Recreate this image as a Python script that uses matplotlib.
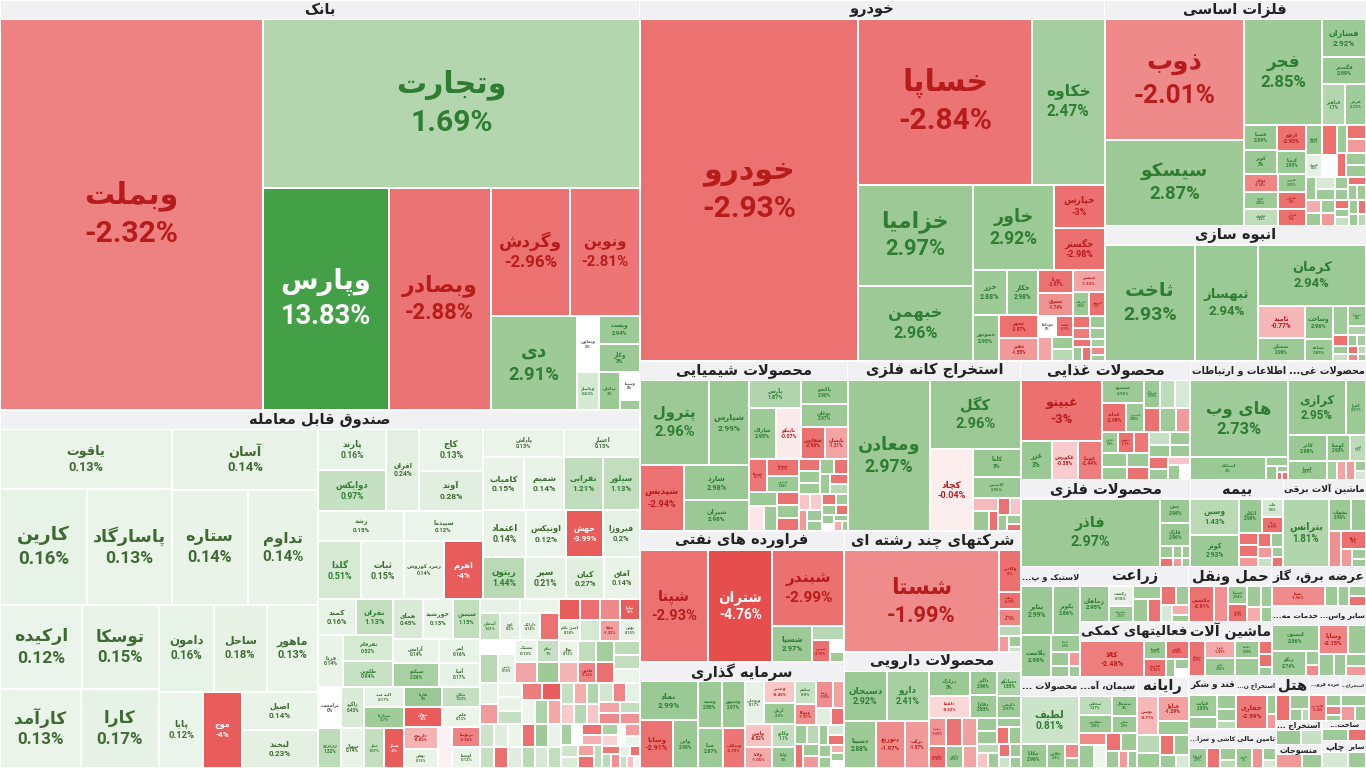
import numpy as np
import matplotlib
matplotlib.use("Agg")
import matplotlib.pyplot as plt
from matplotlib.patches import Rectangle

# ---------------------------------------------------------------- data
# sector header texts (as shown on the map) and sector market caps
sector_names = [
    "بانک", "صندوق قابل معامله", "خودرو", "فلزات اساسی", "انبوه سازی",
    "محصولات شیمیایی", "استخراج کانه فلزی", "فراورده های نفتی", "سرمایه گذاری",
    "شرکتهای چند رشته ای", "محصولات دارویی", "محصولات غذایی", "محصولات فلزی",
    "اطلاعات و ارتباطات", "محصولات غی...", "بیمه", "ماشین آلات برقی",
    "لاستیک و پ...", "زراعت", "فعالیتهای کمکی", "محصولات ...", "سیمان، آه...",
    "رایانه", "حمل ونقل", "ماشین آلات", "عرضه برق، گاز", "خدمات مه...",
    "سایر واس...", "قند و شکر", "استخراج ن...", "کاشی و سرا...", "تامین مالی",
    "هتل", "خرده فرو...", "استخراج...", "استخراج ...", "منسوجات", "ساخت...",
    "چاپ", "سایر",
]
sector_caps = [
    262400, 229120, 168000, 59000, 35500, 35400, 29400, 26800, 21600, 21400,
    20400, 20060, 14790, 11500, 9268, 8091, 7221, 6540, 6050, 5940, 5278, 5270,
    4732, 4565, 4482, 3720, 3290, 3280, 2550, 2150, 1850, 1550, 1500, 1400,
    1150, 1100, 1050, 900, 700, 500,
]

# (ticker, change %, market cap) per sector
bank = [("وبملت", -2.32, 101920), ("وتجارت", 1.69, 63126), ("وپارس", 13.83, 27675),
        ("وبصادر", -2.88, 22500), ("وگردش", -2.96, 10033), ("ونوین", -2.81, 8890),
        ("دی", 2.91, 8036), ("وتعاون", 0, 1200), ("وپست", 2.94, 1150), ("وکار", 3, 1130),
        ("وپاسار", 0.53, 820), ("سامان", 3, 800), ("وسینا", 0, 550), ("", 2.9, 200)]

etf = [("یاقوت", 0.13, 9900), ("کارین", 0.16, 9700), ("پاسارگاد", 0.13, 9400),
       ("آسان", 0.14, 8600), ("ستاره", 0.14, 8400), ("تداوم", 0.14, 7800),
       ("ارکیده", 0.12, 6640), ("توسکا", 0.15, 6308), ("کارآمد", 0.13, 6080),
       ("کارا", 0.17, 5928), ("دامون", 0.16, 4565), ("ساحل", 0.18, 4400),
       ("ماهور", 0.13, 4300), ("پایا", 0.12, 3268), ("موج", -4, 2812),
       ("اصیل", 0.14, 2812), ("لبخند", 0.23, 2812),
       ("پارند", 0.16, 2700), ("دوایکس", 0.97, 2680), ("افران", 0.24, 2600),
       ("کاج", 0.13, 2560), ("آوند", 0.28, 2500), ("رشد", 0.15, 2490),
       ("گلدا", 0.51, 2400), ("ثبات", 0.15, 2350), ("سپیدما", 0.12, 2300),
       ("زمرد کوروش", 0.14, 2250), ("اهرم", -4, 2200),
       ("پاداش", 0.13, 2150), ("کامیاب", 0.15, 2100), ("شمیم", 0.14, 2090),
       ("اعتبار", 0.13, 2010), ("نقرابی", 1.21, 2000), ("سیلور", 1.13, 1910),
       ("اعتماد", 0.14, 1900), ("اونیکس", 0.12, 1800), ("ریتون", 1.44, 1700),
       ("سپر", 0.21, 1680), ("جهش", -3.99, 1660), ("فیروزا", 0.2, 1640),
       ("کیان", 0.27, 1550), ("آفاق", 0.14, 1450),
       ("کمند", 0.16, 1280), ("نقران", 1.13, 1270), ("فردا", 0.14, 1260),
       ("نقرقام", 0.52, 1250), ("طلوین", 0.94, 1240), ("همای", 0.45, 1144),
       ("خورشید", 0.13, 1140), ("سیمین", 1.15, 1056), ("آرامش", 0.14, 1040),
       ("سیکتو", 2.26, 1035), ("لمر", 0.16, 960), ("آسا", 0.17, 936),
       ("ترامست", 0, 930), ("زاگرد", 0.43, 900), ("زرترنج", 1.32, 880),
       ("سهال", 0.14, 875), ("الیه مند", 0.17, 800), ("سپاردا", 2.7, 795),
       ("عیار", 1.07, 770), ("صدار", -4, 760), ("قاریا", 3, 740), ("نیوان", -4, 738),
       ("نیکان", 1.03, 736), ("قلعر", 0.13, 734), ("داریوم", -0.83, 722),
       ("بهمن", 0.15, 630), ("نیسان", -0.03, 585), ("پرتوسا", -2.26, 560),
       ("اوصتا", 0.12, 552), ("طلا", 0.17, 525), ("آسمان", 1.01, 513),
       ("اوج", 0.2, 510), ("بلیس", 0.13, 504), ("دارایک", 0.14, 504),
       ("امین شهر", 0, 486), ("رامین", 0.15, 476), ("تمشک", 0.13, 476),
       ("ثنام", 1, 455), ("", -4, 420), ("امین یکم", 0.18, 408), ("تیارا", -4, 396),
       ("فملا", -1.32, 396), ("بهتن", 0.15, 390), ("نهال", 0.13, 384),
       ("هامون", -2.26, 374), ("درافشان", 1.26, 357), ("آتی", 1.1, 350),
       ("درین", 0.13, 340), ("آوین", 0.14, 325), ("صنایع دی", 0.15, 320),
       ("", -4, 300), ("حافظ", 0.3, 299), ("طلای", 0.13, 289), ("ماهرم", 1.03, 288),
       ("کاریزما", 0.14, 276), ("", 1.5, 276), ("ثروت", 0.5, 264), ("یارا", 1.1, 264),
       ("شمس", 1.03, 264), ("نکوکار", -1.21, 220),
       ("", -2.9, 500), ("", 1.5, 480), ("", -1.2, 460), ("", 2.9, 440),
       ("", -3, 420), ("", 0.5, 400), ("", -2, 400), ("", 1.2, 380), ("", -0.8, 380),
       ("", 2.5, 360), ("", -3, 360), ("", 0.2, 340), ("", -1.5, 340), ("", 1.0, 320),
       ("", -2.5, 320), ("", 0.1, 300), ("", 2.0, 300), ("", -3, 280), ("", 0.3, 280),
       ("", -1, 260), ("", 1.8, 260), ("", -0.5, 240), ("", 0.6, 240), ("", -2, 220),
       ("", 1.1, 220), ("", 0, 200), ("", -3, 200), ("", 0.4, 180), ("", -1.3, 180),
       ("", 2.2, 160), ("", -0.3, 160), ("", 0.15, 140), ("", -2.7, 140), ("", 1.4, 120),
       ("", -1.8, 120), ("", 0.2, 100), ("", -3, 100), ("", 0.9, 80), ("", -0.6, 80),
       ("", 0.1, 60), ("", -1.1, 300), ("", 0.8, 300), ("", -3, 280), ("", 2.9, 280),
       ("", -0.4, 260), ("", 1.6, 260), ("", -2.2, 240), ("", 0.2, 240),
       ("", -1.7, 220), ("", 2.4, 220), ("", -0.9, 200), ("", 0.7, 200),
       ("", -3, 180), ("", 1.3, 180), ("", 0, 160), ("", -1.4, 160)]

khodro = [("خودرو", -2.93, 73530), ("خساپا", -2.84, 28350), ("خکاوه", 2.47, 11800),
          ("خزامیا", 2.97, 11400), ("خبهمن", 2.96, 8500), ("خاور", 2.92, 6900),
          ("خپارس", -3, 2150), ("خگستر", -2.98, 2100), ("خزر", 2.88, 1500),
          ("خکار", 2.98, 1400), ("خموتور", 2.95, 1200), ("خمهر", -2.97, 900),
          ("خفنر", -1.55, 890), ("ورنا", -2.97, 780), ("خشرق", -1.74, 775),
          ("خنصیر", -1.23, 660), ("خریخت", 2.96, 380), ("خوساز", -3, 375),
          ("خودکفا", 0, 370), ("خلنت", -2.9, 345), ("خچرخش", -1.2, 320),
          ("", 2.9, 260), ("خرینگ", 1.5, 250), ("", -2.9, 190), ("", -2.5, 185),
          ("", 2.9, 170), ("", 2.9, 160), ("", -2.9, 140), ("", 2.9, 130),
          ("", -2.9, 120), ("", 2.5, 110), ("", -2, 100), ("", 2.9, 90)]

metals = [("ذوب", -2.01, 16779), ("سیسکو", 2.87, 11985), ("فجر", 2.85, 8295),
          ("فسازان", 2.92, 1665), ("فگستر", 2.99, 1147), ("فباهنر", 1.7, 925),
          ("هرمز", 2.73, 870), ("فسپا", 2.99, 810), ("کویر", 3, 800), ("ارفع", -2.93, 760),
          ("کیمیا", 2.93, 650), ("فولای", -2.14, 600), ("کاوه", 2.82, 590),
          ("فجهان", 1.22, 540), ("فنورد", 2.92, 510), ("فنوال", -3, 495),
          ("فرآور", -3, 480), ("فالوم", 2.93, 475), ("فلامی", -3, 420), ("فمراد", 0.2, 360),
          ("", 0, 320), ("", -1.5, 250), ("", -3, 240), ("", 2.9, 235), ("", 2.9, 230),
          ("", -1.0, 190), ("", 2.9, 185), ("", 2.9, 180), ("", 2.9, 150), ("", 2.9, 120),
          ("", -3, 140), ("", 2.9, 130), ("", 1, 120), ("", -2.9, 110), ("", 2.9, 300),
          ("", -2.9, 260), ("", 2.9, 240), ("", 0.5, 220), ("", 2.9, 200), ("", -1.5, 180),
          ("", 2.9, 160), ("", 2.9, 140), ("", -2.9, 130), ("", 2.9, 120), ("", 2.9, 100),
          ("", 1.5, 90)]

anbooh = [("ثاخت", 2.93, 10179), ("ثبهساز", 2.94, 7020), ("کرمان", 2.94, 6380),
          ("ثامید", -0.77, 1450), ("ثمسکن", 2.96, 1050), ("وساخت", 2.96, 910),
          ("ثشاهد", 2.89, 600), ("ثنوسا", 2.8, 432), ("ثعمرا", 3, 351), ("ثاصفا", 2, 156),
          ("", -3, 144), ("", 2.9, 117), ("", 1, 108), ("", 2.9, 100), ("", 2.5, 90),
          ("", -3, 80), ("", -2, 70), ("", 1.5, 60), ("", 2.9, 55)]

chem = [("پترول", 2.96, 5500), ("شپارس", 2.99, 3200), ("شپدیس", -2.94, 2700),
        ("شارد", 2.98, 2170), ("شیران", 2.98, 1900), ("پارس", 1.87, 1325),
        ("شاراک", 2.95, 1248), ("تاپیکو", -0.07, 1200), ("پاکشو", 2.96, 1026),
        ("بوعلی", 2.97, 1025), ("شفارس", -2.96, 684), ("بایسان", -1.21, 680),
        ("شتوکا", -2.7, 540), ("شسینا", -2.93, 513), ("شیمپی", 2.94, 475),
        ("شاروم", 2.93, 361), ("شبریز", -0.09, 350), ("", 2.9, 299), ("کلر", -3, 275),
        ("شکام", 2.89, 266), ("", -2.9, 264), ("", -2.9, 253), ("", 2.9, 242),
        ("", 2.9, 231), ("", 2.9, 200), ("", -2.9, 190), ("", 2.9, 180), ("", -2.9, 180),
        ("", 1.5, 170), ("", -0.5, 168), ("", -0.4, 168), ("", -1.5, 160), ("", 2.9, 150),
        ("", 2.9, 150), ("", -2.9, 140), ("", 2.9, 130), ("", 2.9, 120), ("", -2.9, 110),
        ("", 2.9, 100), ("", 0, 90), ("", 2.9, 80), ("", -1, 70), ("", 2.9, 60)]

mining = [("ومعادن", 2.97, 12160), ("کگل", 2.96, 6097), ("کچاد", -0.04, 3528),
          ("کاما", 3, 1316), ("کاسپین", 2.95, 987), ("کفرا", -0.73, 315),
          ("کپرور", 3.01, 315), ("کمنگنز", -2.98, 195), ("کروی", -2.9, 195),
          ("", -0.5, 180), ("", 2.9, 150), ("", 2.9, 120), ("", -2.9, 100)]

oil = [("شپنا", -2.93, 6656), ("شتران", -4.76, 6240), ("شبندر", -2.99, 4690),
       ("شسپا", 2.97, 1260), ("شاوان", 1.6, 416), ("شپترو", -2.99, 340),
       ("شرانل", 0, 154), ("", 2.9, 126)]

invest = [("نماد", 2.99, 1920), ("وسایا", -2.91, 1392), ("واتی", 2.98, 1008),
          ("وسپه", 2.85, 960), ("وسپهر", 2.97, 920), ("صبا", 2.87, 882),
          ("وسکاب", -2.79, 744), ("وبوعلی", 0.17, 713), ("وغدیر", -0.45, 572),
          ("آریان", 2.9, 546), ("وامین", -0.52, 528), ("ولانا", -1.05, 504),
          ("وکاتو", 1.1, 440), ("ولپا", 3, 420), ("سلیم", 0.9, 418), ("وتوکا", -1.91, 399),
          ("وپسا", -1.92, 374), ("وپویا", -1.3, 264), ("وسبحان", 0.3, 221), ("", -3, 204),
          ("", 2.9, 200), ("", 1.5, 190), ("", -2.9, 180), ("", 2.9, 170), ("", -1.5, 160),
          ("", 2.9, 150), ("", 0.5, 140), ("", -2.9, 130), ("", 2.9, 120), ("", 2.9, 110),
          ("", -1, 100), ("", 2.9, 90), ("", 0, 80)]

multi = [("شستا", -1.99, 15246), ("وکادیر", -3, 888), ("ونفت", -2.99, 360),
         ("وصنا", -2.16, 360), ("", 1.5, 216), ("", -1.5, 160), ("", 2.9, 130),
         ("", 1.0, 65)]

pharma = [("دسبحان", 2.92, 1849), ("دارو", 2.41, 1806), ("دسینا", 2.88, 1323),
          ("دتوزیع", -1.97, 1225), ("برکت", -1.57, 972), ("درازک", 3, 900),
          ("دلقما", -0.22, 782), ("دالبر", 2.96, 550), ("دفارا", 2.83, 546),
          ("دسانکو", 1.85, 506), ("دکیمی", 2.97, 462), ("دعبید", -1.69, 440),
          ("دزهراوی", -2.89, 391), ("دشیمی", -1.3, 390), ("دپارس", -2.96, 338),
          ("دجابر", 2.96, 338), ("داسوه", -1.2, 270), ("دامین", 2.97, 234),
          ("دکوثر", 2.9, 234), ("", 2.9, 200), ("", -2.9, 180), ("", 2.9, 170),
          ("", 1.5, 160), ("", -0.5, 150), ("", 2.9, 140), ("", -2.9, 130),
          ("", 2.9, 120), ("", 0.8, 110), ("", 2.9, 100)]

food = [("غبینو", -3, 4800), ("غزر", 3, 1170), ("غکورش", -0.38, 936), ("غویتا", -2.44, 910),
        ("غمشهد", 2.95, 890), ("غدانه", -2.98, 675), ("غصینو", 2.88, 486),
        ("غمارگ", 2.99, 450), ("غسالم", 1.29, 400), ("غچین", 2.8, 325), ("غنوش", -2.9, 325),
        ("غپاک", -2.76, 324), ("غشاذ", 2.96, 288), ("غگلپا", 2.96, 247),
        ("غپینو", 2.9, 247), ("", 0.5, 400), ("", -2.9, 380), ("", 2.9, 360),
        ("", -1.5, 340), ("", 2.9, 320), ("", 2.9, 300), ("", -2.9, 280), ("", 1, 260),
        ("", 2.9, 240), ("", -2.9, 220), ("", 2.9, 200), ("", -0.5, 180), ("", 2.9, 160),
        ("", 0, 140)]

metalprod = [("فاذر", 2.97, 9452), ("چدن", 2.98, 725), ("فارک", 2.96, 724),
             ("", 2.9, 150), ("", -2.9, 120), ("", 2.9, 100), ("", 2.9, 90),
             ("", -1.5, 80), ("", 2.9, 70)]

info = [("های وب", 2.73, 7425), ("اسیاتک", 3, 1659), ("", 2.9, 190), ("", 3, 143),
        ("", 2.9, 60), ("", -2.9, 42), ("", -2.9, 40)]

nonmetal = [("کرازی", 2.95, 2808), ("کفرا", 2.97, 936), ("کاذر", 2.98, 891),
            ("کسرا", 2.87, 648), ("کهمدا", 2.93, 528), ("کبیر", 1.3, 360),
            ("", 2.3, 160), ("", -1.2, 150), ("", -1.5, 140), ("", 2.9, 100), ("", 0.5, 80)]

insurance = [("وسین", 1.43, 1428), ("کوثر", 2.93, 1260), ("اتکای", 2.98, 630),
             ("ملت", 0.5, 312), ("ودانا", -2.99, 272), ("", -2.9, 200), ("", -2.9, 180),
             ("", -1.5, 153), ("", -2.9, 150), ("", 2.9, 140), ("", -1.5, 120),
             ("", 1.0, 100), ("", 2.9, 90), ("", -2.9, 80)]

electric = [("بترانس", 1.81, 2623), ("بشهاب", 2.96, 620), ("بموتو", 2.98, 400),
            ("بنیرو", -1.79, 378), ("بایکا", -3, 378), ("", -1.5, 150), ("", 2.9, 120),
            ("", 2.9, 90)]

tire = [("بتایر", 2.99, 1600), ("پکویر", 2.86, 1350), ("پلاست", 2.98, 1280),
        ("پاسا", 2.9, 486), ("پدرخش", 2.98, 260), ("", 2.9, 200), ("", -1.5, 150),
        ("", 2.9, 120)]
agri = [("زماهان", 2.95, 851), ("زکشت", 0.18, 390), ("زشریف", 2.75, 300),
        ("زقیام", 2.9, 300), ("زفجر", 2.9, 290), ("زپارس", -2.9, 250),
        ("زکوثر", -2.94, 230), ("", 2.9, 200), ("", 0.5, 150), ("", -1.0, 120),
        ("", 2.9, 100)]
support = [("کالا", -2.48, 2072), ("کلیمیا", 2.97, 350), ("فخوری", -2.96, 350),
           ("کایزد", -2.86, 350), ("", 2.9, 150), ("", 2.9, 120), ("", 0, 100)]
paper = [("لطیف", 0.81, 3074), ("چکاپا", 2.96, 684), ("چکارن", 2.9, 500),
         ("", -2, 200), ("", 2.9, 150)]
cement = [("سخاش", 1.27, 450), ("سفارس", 2.96, 420), ("سشمال", 3, 350),
          ("سخزر", 2.9, 300), ("سدور", -1.98, 250), ("سکرد", 2.9, 250),
          ("سقاین", 0.1, 200), ("", -2.9, 200), ("", 2.9, 200), ("", 2.9, 150),
          ("", -1.5, 120), ("", 2.9, 100)]
computer = [("توسن", -0.71, 576), ("فنآوا", -1.29, 540), ("", 2.9, 300), ("", 1.5, 300),
            ("", 2.9, 250), ("", -2.9, 200), ("", 2.9, 200), ("", 2.9, 150), ("", 0.5, 120)]
transport = [("حکشتی", -2.91, 660), ("حپترو", -1.8, 357), ("حسینا", 2.94, 260),
             ("حتاید", -2.9, 240), ("", 2.9, 220), ("", 2.9, 160), ("", -1, 140),
             ("", 2.9, 110)]
machinery = [("تیپیکو", -2.9, 507), ("تایرا", -1.09, 476), ("تکنو", 2.96, 476),
             ("تکشا", 2.99, 370), ("", 2.96, 370), ("", -2.9, 150), ("", -2.9, 150),
             ("", 2.9, 100)]
power = [("بمپنا", -1.96, 1210), ("", 2.9, 300), ("", 2.9, 250), ("", 2.9, 200),
         ("", -2.9, 180)]
engineering = [("کیسون", 2.96, 1305), ("رتکو", 2.74, 900), ("", 2.9, 200), ("", -2, 150)]
otherfin = [("وشاپا", -2.15, 624), ("", 2.9, 400), ("", 2.95, 250), ("", 2.9, 200),
            ("", 2.9, 180), ("", -1.5, 150)]
sugar = [("قثابت", 2.83, 575), ("قشکر", 2.9, 300), ("", 2.9, 250), ("", 2.9, 200),
         ("", 1.5, 150)]
oilext = [("حفاری", -2.59, 1254), ("", 2.9, 200), ("", -1.5, 150)]
tile = [("کساپا", 2.9, 400), ("", -2.9, 300), ("", 2.9, 200), ("", 1.5, 150)]
finance = [("تامین", 3, 420), ("", -1.75, 300), ("", 2.9, 200), ("", 0.5, 150)]
hotel = [("سقطا", -3, 420), ("اماد", 2.96, 330), ("", 2.9, 150), ("", 1.5, 100)]
retail = [("فاسمین", -2.28, 660), ("آلوند", 2.9, 250), ("", -2.38, 200), ("", 2.9, 120)]
minerals = [("", 2.9, 200), ("", -1.5, 150), ("", 2.9, 120)]
minor1 = [("", 2.9, 100), ("", 1, 80)]
minor2 = [("", -1.5, 80), ("", 2.9, 60)]
minor3 = [("", 2.9, 60), ("", -2.9, 40)]
minor4 = [("", 0.5, 50)]
minor5 = [("", 2.9, 40)]

sector_cells = [bank, etf, khodro, metals, anbooh, chem, mining, oil, invest, multi,
                pharma, food, metalprod, info, nonmetal, insurance, electric, tire,
                agri, support, paper, cement, computer, transport, machinery, power,
                engineering, otherfin, sugar, oilext, tile, finance, hotel, retail,
                minerals, minor1, minor2, minor3, minor4, minor5]

W, H = 1366, 768
HEADER = 19

# ---------------------------------------------------------- persian text
DUAL = {'ب': 0xFE8F, 'ت': 0xFE95, 'ث': 0xFE99, 'ج': 0xFE9D, 'ح': 0xFEA1, 'خ': 0xFEA5,
        'س': 0xFEB1, 'ش': 0xFEB5, 'ص': 0xFEB9, 'ض': 0xFEBD, 'ط': 0xFEC1, 'ظ': 0xFEC5,
        'ع': 0xFEC9, 'غ': 0xFECD, 'ف': 0xFED1, 'ق': 0xFED5, 'ك': 0xFED9, 'ل': 0xFEDD,
        'م': 0xFEE1, 'ن': 0xFEE5, 'ه': 0xFEE9, 'ي': 0xFEF1, 'ئ': 0xFE89,
        'پ': 0xFB56, 'چ': 0xFB7A, 'ک': 0xFB8E, 'گ': 0xFB92, 'ی': 0xFBFC}
RIGHT = {'ا': 0xFE8D, 'آ': 0xFE81, 'أ': 0xFE83, 'إ': 0xFE87, 'ؤ': 0xFE85, 'د': 0xFEA9,
         'ذ': 0xFEAB, 'ر': 0xFEAD, 'ز': 0xFEAF, 'و': 0xFEED, 'ة': 0xFE93, 'ژ': 0xFB8A}
LAM_ALEF = {'ا': 0xFEFB, 'آ': 0xFEF5, 'أ': 0xFEF7, 'إ': 0xFEF9}


def shape(s):
    # join letters into presentation forms, then lay them out right-to-left
    out = []
    i = 0
    while i < len(s):
        c = s[i]
        prev = s[i - 1] if i > 0 else ''
        nxt = s[i + 1] if i + 1 < len(s) else ''
        jp = prev in DUAL
        if c == 'ل' and nxt in LAM_ALEF:
            out.append(chr(LAM_ALEF[nxt] + (1 if jp else 0)))
            i += 2
            continue
        if c in DUAL:
            jn = nxt in DUAL or nxt in RIGHT
            off = 3 if (jp and jn) else 1 if jp else 2 if jn else 0
            out.append(chr(DUAL[c] + off))
        elif c in RIGHT:
            out.append(chr(RIGHT[c] + (1 if jp else 0)))
        elif c != '\u200c':
            out.append(c)
        i += 1
    return ''.join(reversed(out))


# ---------------------------------------------------------------- layout
def binary(values, x0, y0, x1, y1):
    n = len(values)
    sums = np.concatenate([[0.0], np.cumsum(values)])
    rects = [None] * n

    def part(i, j, value, x0, y0, x1, y1):
        if i >= j - 1:
            rects[i] = (x0, y0, x1, y1)
            return
        off = sums[i]
        target = value / 2 + off
        k, hi = i + 1, j - 1
        while k < hi:
            mid = (k + hi) // 2
            if sums[mid] < target:
                k = mid + 1
            else:
                hi = mid
        if target - sums[k - 1] < sums[k] - target and i + 1 < k:
            k -= 1
        vl = sums[k] - off
        vr = value - vl
        if x1 - x0 > y1 - y0:
            xk = (x0 * vr + x1 * vl) / value
            part(i, k, vl, x0, y0, xk, y1)
            part(k, j, vr, xk, y0, x1, y1)
        else:
            yk = (y0 * vr + y1 * vl) / value
            part(i, k, vl, x0, y0, x1, yk)
            part(k, j, vr, x0, yk, x1, y1)

    part(0, n, sums[-1], x0, y0, x1, y1)
    return rects


def cell_color(p):
    if p >= 0:
        full, strong = np.array([155, 201, 149]), np.array([67, 160, 71])
    else:
        full, strong = np.array([236, 112, 112]), np.array([229, 72, 72])
    a = abs(p)
    if a <= 3:
        t = np.sqrt(a / 3)
        c = np.array([255, 255, 255]) * (1 - t) + full * t
    else:
        t = min((a - 3) / 2, 1)
        c = full * (1 - t) + strong * t
    return c / 255


def text_color(p):
    if abs(p) >= 3.5:
        return 'white'
    if p > 0:
        return '#2e7d32' if p >= 0.5 else '#3f6a34'
    if p < 0:
        return '#b71c1c'
    return '#555555'


fig = plt.figure(figsize=(13.66, 7.68), dpi=100)
ax = fig.add_axes([0, 0, 1, 1])
ax.set_xlim(0, W)
ax.set_ylim(H, 0)
ax.axis('off')
renderer = fig.canvas.get_renderer()


def put_label(x0, y0, x1, y1, name, pct):
    w, h = x1 - x0, y1 - y0
    fs = min(0.22 * min(w, h), 30.0, h / 2.8)
    if fs < 3.0 or not name:
        return
    cx, cy = (x0 + x1) / 2, (y0 + y1) / 2
    col = text_color(pct)
    t1 = ax.text(cx, cy, shape(name), fontsize=fs * 0.72, family='DejaVu Sans',
                 weight='bold', color=col, ha='center', va='center')
    t2 = ax.text(cx, cy, f"{pct:g}%", fontsize=fs * 0.72, family='Roboto',
                 weight='bold', color=col, ha='center', va='center')
    wmax = max(t.get_window_extent(renderer).width for t in (t1, t2))
    if wmax > 0.88 * w:
        fs *= 0.88 * w / wmax
    if fs < 3.0:
        t1.remove()
        t2.remove()
        return
    for t in (t1, t2):
        t.set_fontsize(fs * 0.72)
    t1.set_position((cx, cy - 0.62 * fs))
    t2.set_position((cx, cy + 0.64 * fs))


order = sorted(range(len(sector_caps)), key=lambda i: -sector_caps[i])
srects = binary([sector_caps[i] for i in order], 0, 0, W, H)

for idx, (x0, y0, x1, y1) in zip(order, srects):
    hh = HEADER if (y1 - y0) > HEADER * 2 else (y1 - y0) * 0.4
    ax.add_patch(Rectangle((x0 + 0.5, y0 + 0.5), x1 - x0 - 1, hh - 1,
                           facecolor='#f1f1f4', edgecolor='none'))
    hfs = min(10.5, hh * 0.62)
    t = ax.text((x0 + x1) / 2, y0 + hh / 2, shape(sector_names[idx]), fontsize=hfs,
                family='DejaVu Sans', weight='bold', color='#222222',
                ha='center', va='center')
    tw = t.get_window_extent(renderer).width
    if tw > (x1 - x0) - 2:
        t.set_fontsize(max(hfs * ((x1 - x0) - 2) / tw, 3.0))

    cells = sorted(sector_cells[idx], key=lambda c: -c[2])
    crects = binary([c[2] for c in cells], x0, y0 + hh, x1, y1)
    for (name, pct, _), (a0, b0, a1, b1) in zip(cells, crects):
        ax.add_patch(Rectangle((a0 + 1, b0 + 1), max(a1 - a0 - 2, 0.3),
                               max(b1 - b0 - 2, 0.3), facecolor=cell_color(pct),
                               edgecolor='none'))
        put_label(a0 + 1, b0 + 1, a1 - 1, b1 - 1, name, pct)

fig.savefig("out.png", dpi=100, facecolor='white')
